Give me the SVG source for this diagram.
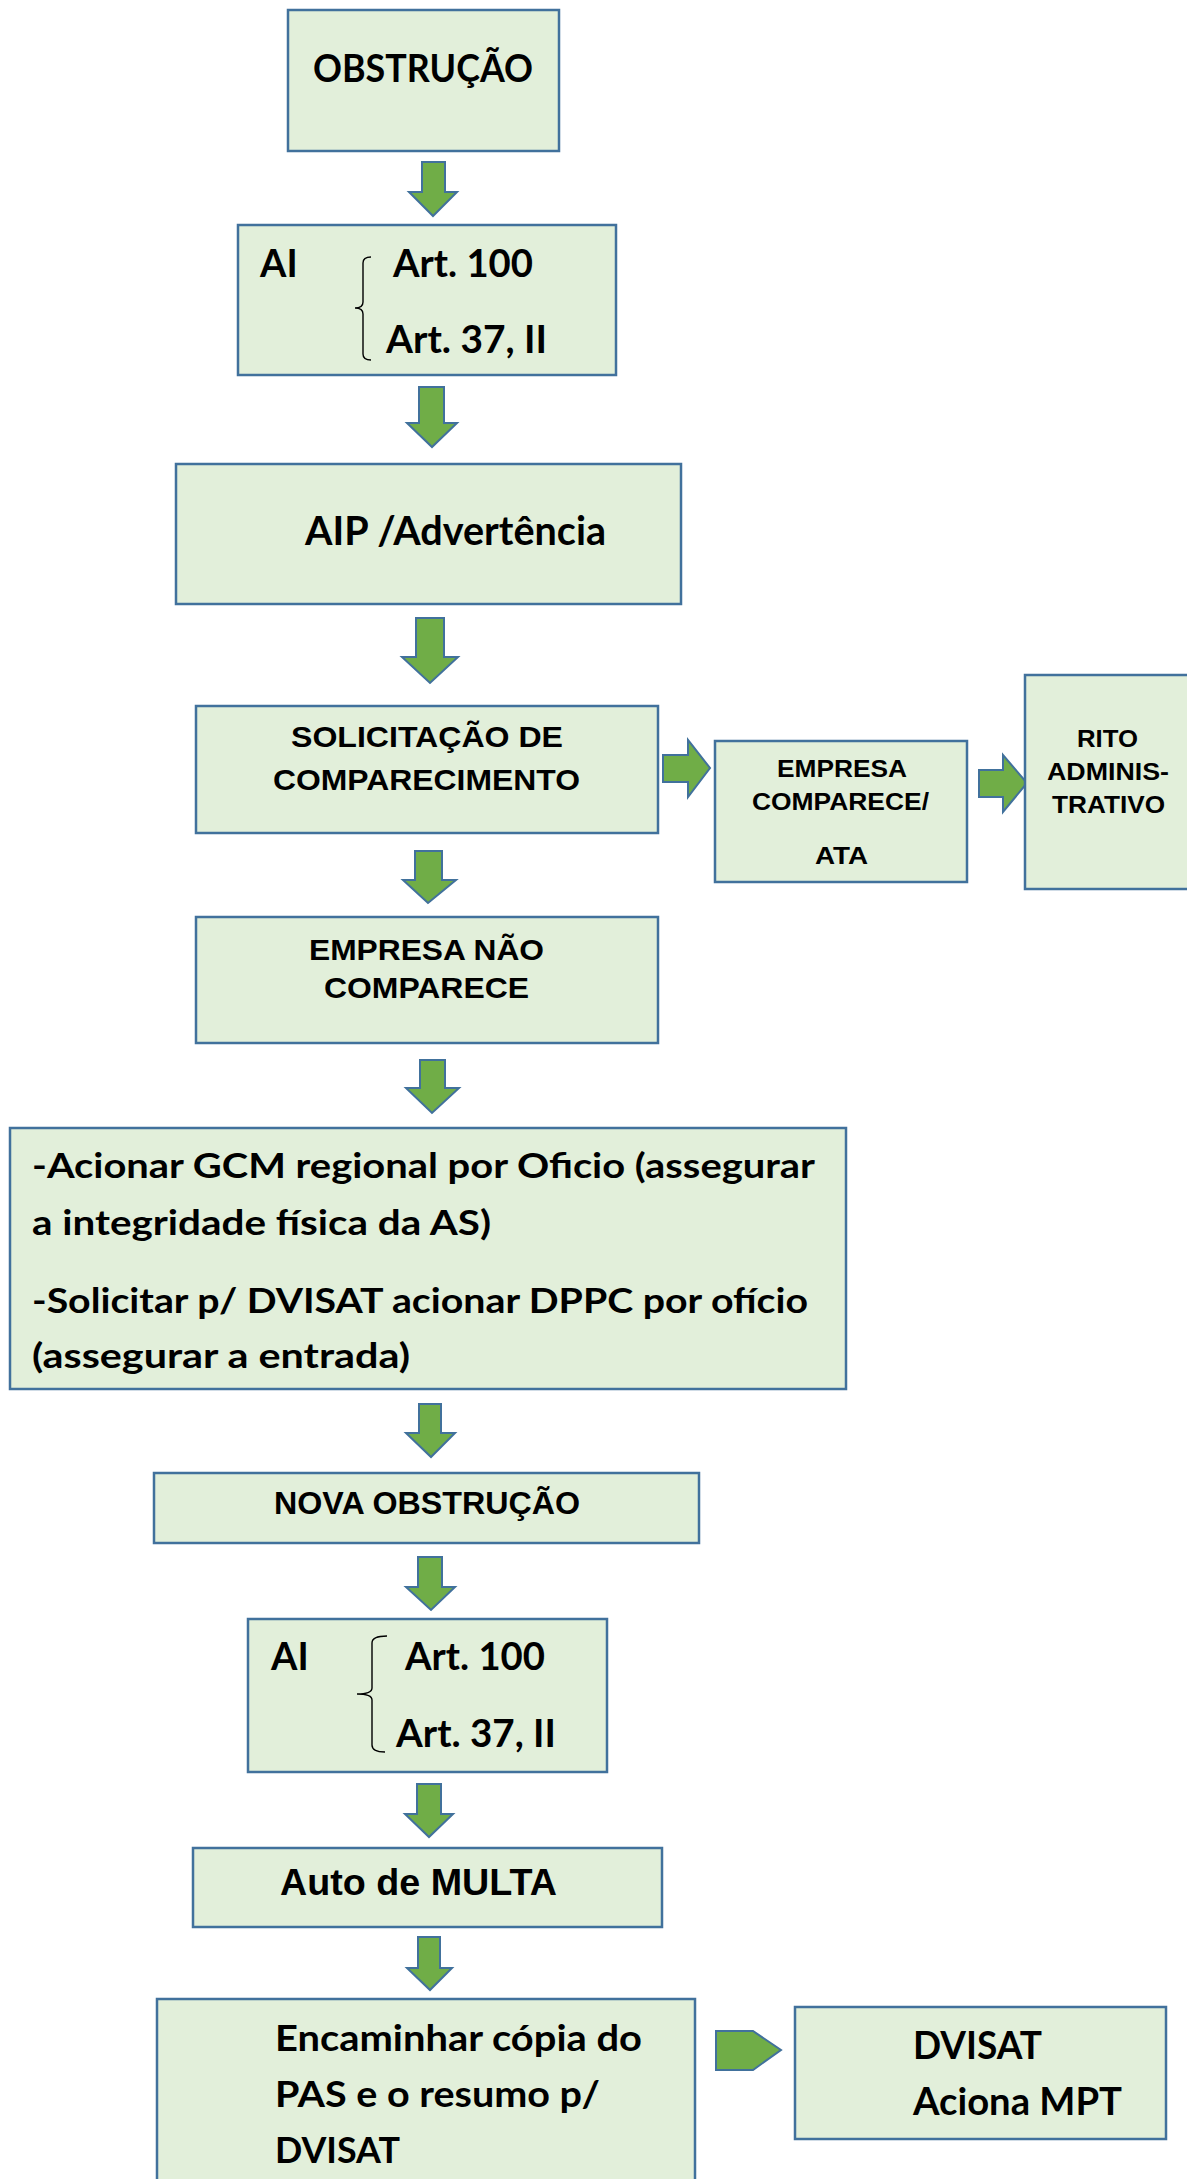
<svg xmlns="http://www.w3.org/2000/svg" width="1187" height="2179" viewBox="0 0 1187 2179">
<style>
.box{fill:#E2EFDA;stroke:#41719C;stroke-width:2.5}
.arr{fill:#70AD47;stroke:#41719C;stroke-width:2;stroke-linejoin:miter}
.cal{font-family:Lato,"Liberation Sans",sans-serif;font-weight:700;fill:#000}
.ari{font-family:"Liberation Sans",Arial,sans-serif;font-weight:700;fill:#000}
.brace{fill:none;stroke:#000;stroke-width:1.4}
</style>
<rect width="1187" height="2179" fill="#fff"/>
<g id="connectors">
<polygon class="arr" points="422,162 445,162 445,192 457,192 433,216 409,192 422,192"/>
<polygon class="arr" points="419,387 444,387 444,423 457,423 432,447 407,423 419,423"/>
<polygon class="arr" points="416,618 444,618 444,657 458,657 430,683 402,657 416,657"/>
<polygon class="arr" points="415,851 442,851 442,880 456,880 428,903 403,880 415,880"/>
<polygon class="arr" points="420,1060 445,1060 445,1088 459,1088 432,1113 406,1088 420,1088"/>
<polygon class="arr" points="419,1404 441,1404 441,1433 455,1433 431,1457 406,1433 419,1433"/>
<polygon class="arr" points="418,1557 442,1557 442,1587 455,1587 431,1610 406,1587 418,1587"/>
<polygon class="arr" points="417,1784 441,1784 441,1814 453,1814 429,1837 405,1814 417,1814"/>
<polygon class="arr" points="418,1937 440,1937 440,1968 452,1968 430,1990 407,1968 418,1968"/>
<polygon class="arr" points="663,755 688,755 688,740 710,768 688,797 688,782 663,782"/>
<polygon class="arr" points="979,770 1003,770 1003,755 1027,783 1003,812 1003,797 979,797"/>
<polygon class="arr" points="716,2031 753,2031 781,2050 753,2070 716,2070"/>
</g>
<g id="obstrucao">
<rect class="box" x="288" y="10" width="271" height="141"/>
<text class="cal" x="313" y="82" font-size="39" textLength="220" lengthAdjust="spacingAndGlyphs">OBSTRUÇÃO</text>
</g>
<g id="ai1">
<rect class="box" x="238" y="225" width="378" height="150"/>
<text class="cal" x="260" y="277" font-size="38">AI</text>
<path class="brace" d="M371,257 Q363,257 363,263 L363,302 Q363,308 355,308 Q363,308 363,314 L363,354 Q363,360 371,360"/>
<text class="cal" x="393" y="277" font-size="38" textLength="140" lengthAdjust="spacingAndGlyphs">Art. 100</text>
<text class="cal" x="386" y="353" font-size="38" textLength="161" lengthAdjust="spacingAndGlyphs">Art. 37, II</text>
</g>
<g id="aip">
<rect class="box" x="176" y="464" width="505" height="140"/>
<text class="cal" x="305" y="545" font-size="40" textLength="301" lengthAdjust="spacingAndGlyphs">AIP /Advertência</text>
</g>
<g id="solicitacao">
<rect class="box" x="196" y="706" width="462" height="127"/>
<text class="ari" x="291" y="747" font-size="30" textLength="272" lengthAdjust="spacingAndGlyphs">SOLICITAÇÃO DE</text>
<text class="ari" x="273" y="790" font-size="30" textLength="307" lengthAdjust="spacingAndGlyphs">COMPARECIMENTO</text>
</g>
<g id="empresa-comparece">
<rect class="box" x="715" y="741" width="252" height="141"/>
<text class="ari" x="777" y="777" font-size="24" textLength="130" lengthAdjust="spacingAndGlyphs">EMPRESA</text>
<text class="ari" x="752" y="810" font-size="24" textLength="177" lengthAdjust="spacingAndGlyphs">COMPARECE/</text>
<text class="ari" x="815" y="864" font-size="24" textLength="53" lengthAdjust="spacingAndGlyphs">ATA</text>
</g>
<g id="rito">
<rect class="box" x="1025" y="675" width="166" height="214"/>
<text class="ari" x="1077" y="747" font-size="23" textLength="61" lengthAdjust="spacingAndGlyphs">RITO</text>
<text class="ari" x="1047" y="780" font-size="23" textLength="122" lengthAdjust="spacingAndGlyphs">ADMINIS-</text>
<text class="ari" x="1052" y="813" font-size="23" textLength="113" lengthAdjust="spacingAndGlyphs">TRATIVO</text>
</g>
<g id="empresa-nao">
<rect class="box" x="196" y="917" width="462" height="126"/>
<text class="ari" x="309" y="960" font-size="30" textLength="235" lengthAdjust="spacingAndGlyphs">EMPRESA NÃO</text>
<text class="ari" x="324" y="998" font-size="30" textLength="205" lengthAdjust="spacingAndGlyphs">COMPARECE</text>
</g>
<g id="acionar">
<rect class="box" x="10" y="1128" width="836" height="261"/>
<text class="cal" x="32" y="1178" font-size="35" textLength="783" lengthAdjust="spacingAndGlyphs">-Acionar GCM regional por Oficio (assegurar</text>
<text class="cal" x="32" y="1235" font-size="35" textLength="459" lengthAdjust="spacingAndGlyphs">a integridade física da AS)</text>
<text class="cal" x="32" y="1313" font-size="35" textLength="776" lengthAdjust="spacingAndGlyphs">-Solicitar p/ DVISAT acionar DPPC por ofício</text>
<text class="cal" x="32" y="1368" font-size="35" textLength="378" lengthAdjust="spacingAndGlyphs">(assegurar a entrada)</text>
</g>
<g id="nova-obstrucao">
<rect class="box" x="154" y="1473" width="545" height="70"/>
<text class="ari" x="274" y="1514" font-size="31" textLength="306" lengthAdjust="spacingAndGlyphs">NOVA OBSTRUÇÃO</text>
</g>
<g id="ai2">
<rect class="box" x="248" y="1619" width="359" height="153"/>
<text class="cal" x="271" y="1670" font-size="38">AI</text>
<path class="brace" d="M387,1636 Q372,1636 372,1643 L372,1688 Q372,1694 357,1694 Q372,1694 372,1700 L372,1745 Q372,1752 385,1752"/>
<text class="cal" x="405" y="1670" font-size="38" textLength="140" lengthAdjust="spacingAndGlyphs">Art. 100</text>
<text class="cal" x="396" y="1747" font-size="38" textLength="160" lengthAdjust="spacingAndGlyphs">Art. 37, II</text>
</g>
<g id="auto-multa">
<rect class="box" x="193" y="1848" width="469" height="79"/>
<text class="ari" x="280" y="1895" font-size="36" textLength="277" lengthAdjust="spacingAndGlyphs">Auto de MULTA</text>
</g>
<g id="encaminhar">
<rect class="box" x="157" y="1999" width="538" height="200"/>
<text class="cal" x="275" y="2051" font-size="36" textLength="367" lengthAdjust="spacingAndGlyphs">Encaminhar cópia do</text>
<text class="cal" x="275" y="2107" font-size="36" textLength="325" lengthAdjust="spacingAndGlyphs">PAS e o resumo p/</text>
<text class="cal" x="275" y="2163" font-size="36" textLength="125" lengthAdjust="spacingAndGlyphs">DVISAT</text>
</g>
<g id="dvisat-mpt">
<rect class="box" x="795" y="2007" width="371" height="132"/>
<text class="cal" x="913" y="2059" font-size="38" textLength="129" lengthAdjust="spacingAndGlyphs">DVISAT</text>
<text class="cal" x="913" y="2115" font-size="38" textLength="209" lengthAdjust="spacingAndGlyphs">Aciona MPT</text>
</g>
</svg>
